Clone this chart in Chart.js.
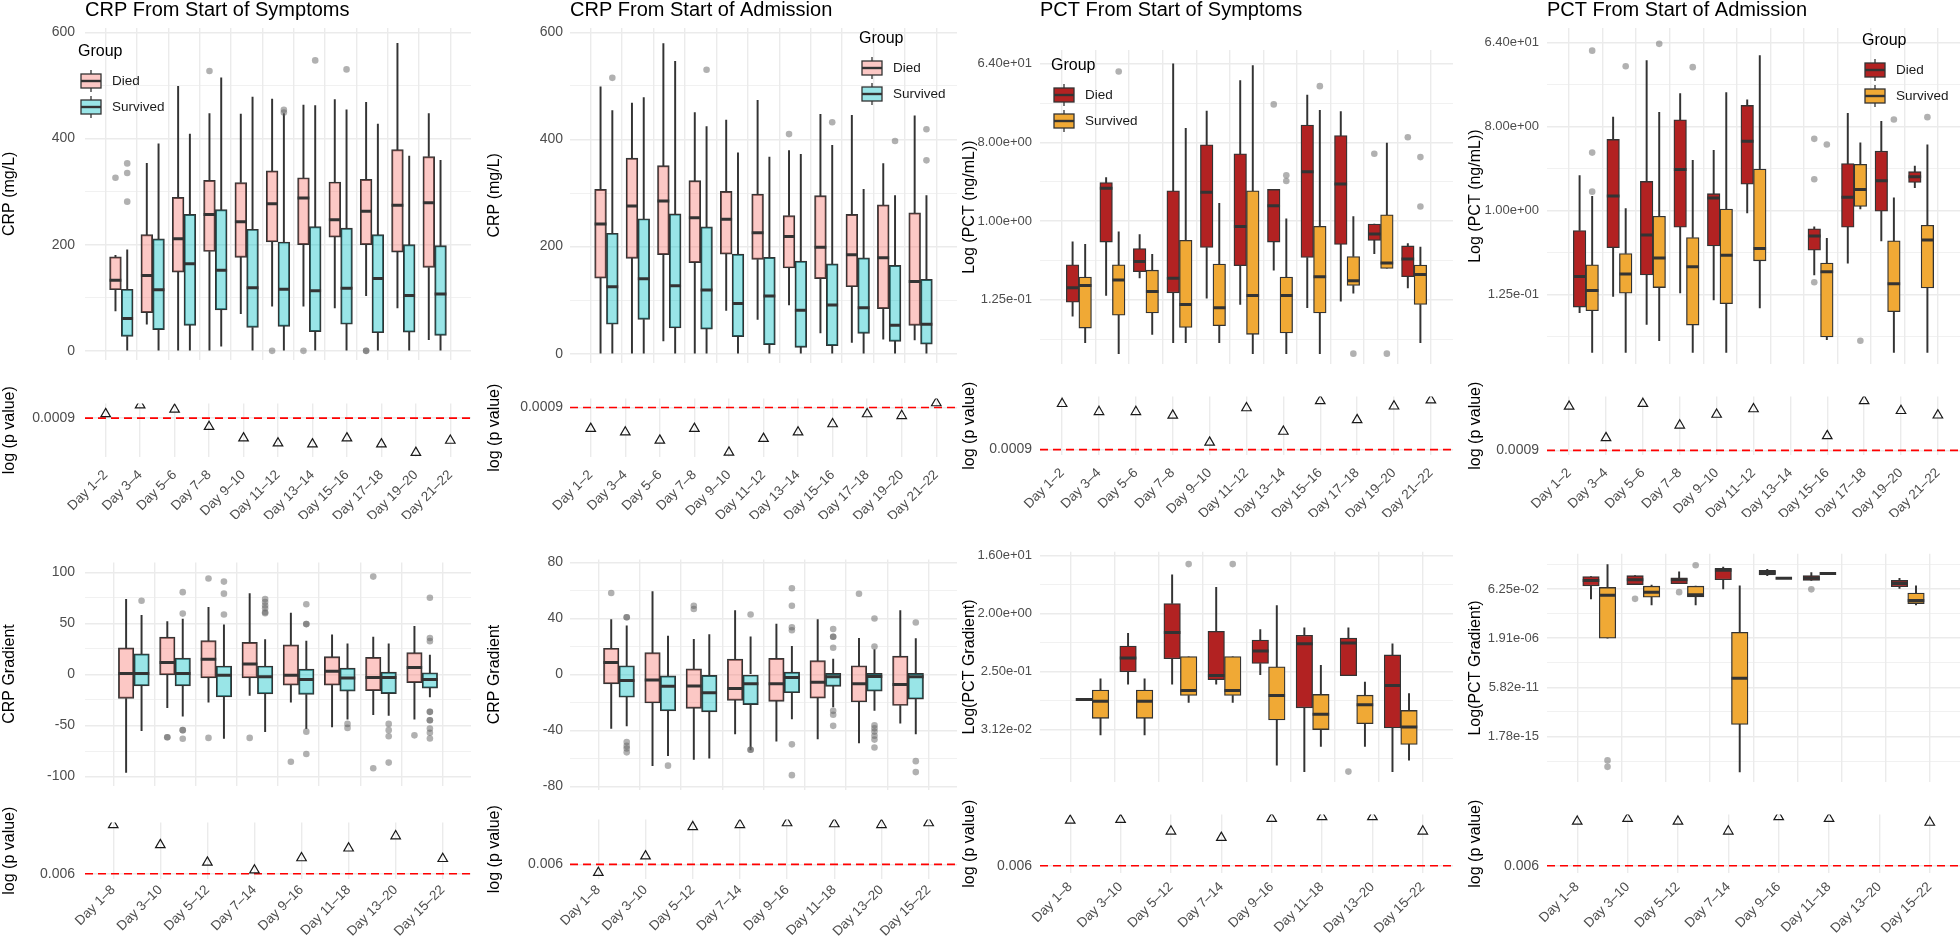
<!DOCTYPE html>
<html>
<head>
<meta charset="utf-8">
<title>CRP / PCT box plots</title>
<script src="https://cdn.jsdelivr.net/npm/chart.js@4.4.1/dist/chart.umd.min.js"></script>
<style>
  html, body { margin: 0; padding: 0; background: #fff; width: 1960px; height: 936px; overflow: hidden; }
  #page { position: relative; width: 1960px; height: 936px; overflow: hidden; }
  #page canvas { position: absolute; }
</style>
</head>
<body>
<div id="page"></div>
<script>
// ---- categories
const topDays = ['Day 1–2', 'Day 3–4', 'Day 5–6', 'Day 7–8', 'Day 9–10', 'Day 11–12',
                 'Day 13–14', 'Day 15–16', 'Day 17–18', 'Day 19–20', 'Day 21–22'];
const botDays = ['Day 1–8', 'Day 3–10', 'Day 5–12', 'Day 7–14', 'Day 9–16', 'Day 11–18',
                 'Day 13–20', 'Day 15–22'];
const groupNames = ['Died', 'Survived'];
const legendTitle = 'Group';

// ---- box stats: [lower whisker, Q1, median, Q3, upper whisker], null = no data
// outliers: [day index, value]

// CRP from start of symptoms
const crpSymDied = [[75,115,133,177,180],[50,72,142,219,353],[0,148,211,289,498],[0,187,257,321,447],
  [70,176,243,317,446],[84,205,277,339,474],[84,200,288,326,463],[81,214,247,318,473],
  [104,200,263,323,468],[81,186,274,379,579],[21,157,279,366,447]];
const crpSymSurv = [[0,27,61,116,190],[0,40,115,211,390],[0,48,164,257,408],[9,77,152,266,514],
  [0,44,119,229,478],[0,46,116,205,447],[0,36,113,234,462],[0,50,118,231,454],
  [0,34,136,219,427],[0,35,104,200,367],[0,29,107,198,359]];
const crpSymDiedOut = [[0,326],[3,527],[5,0],[6,0],[8,0],[8,0]];
const crpSymSurvOut = [[0,353],[0,335],[0,281],[5,454],[5,449],[6,547],[7,530]];

// CRP from start of admission
const crpAdmDied = [[0,141,242,307,498],[0,178,276,365,468],[24,185,285,351,579],[0,170,254,323,450],
  [81,186,251,303,436],[64,176,226,298,473],[91,160,219,258,379],[39,140,199,295,447],
  [21,125,185,260,445],[27,84,179,278,355],[26,53,135,263,444]];
const crpAdmSurv = [[0,55,125,225,454],[0,64,140,252,478],[0,48,127,261,546],[0,46,119,237,424],
  [0,32,94,186,375],[0,17,108,180,367],[0,12,81,173,372],[0,15,91,168,389],
  [0,38,86,179,307],[0,23,53,165,295],[0,18,55,139,295]];
const crpAdmDiedOut = [[6,410]];
const crpAdmSurvOut = [[0,515],[3,530],[7,432],[9,397],[10,419],[10,361]];

// PCT from start of symptoms (ng/mL)
const pctSymDied = [[0.081,0.117,0.171,0.314,0.578],[0.140,0.574,2.38,2.77,3.16],[0.222,0.262,0.344,0.483,0.702],
  [0.040,0.150,0.221,2.23,64],[0.130,0.497,2.14,7.52,18.4],[0.110,0.307,0.864,5.94,41.1],
  [0.273,0.574,1.50,2.31,2.31],[0.101,0.382,3.68,12.7,28.1],[0.120,0.539,2.66,9.58,18.1],
  [0.423,0.600,0.712,0.926,0.926],[0.171,0.230,0.366,0.518,0.550]];
const pctSymSurv = [[0.040,0.059,0.182,0.227,0.539],[0.030,0.083,0.210,0.314,0.752],[0.050,0.088,0.155,0.273,0.415],
  [0.040,0.060,0.110,0.600,11.6],[0.040,0.063,0.101,0.321,1.60],[0.030,0.050,0.140,2.23,61.2],
  [0.030,0.052,0.140,0.227,1.06],[0.030,0.088,0.230,0.871,18.7],[0.149,0.182,0.207,0.392,1.13],
  [0.285,0.285,0.330,1.18,7.89],[0.040,0.110,0.243,0.312,0.503]];
const pctSymDiedOut = [[6,21.9],[9,5.94],[10,9.19]];
const pctSymSurvOut = [[1,52.3],[6,3.36],[6,2.89],[7,35.5],[8,0.030],[9,0.030],[10,5.43],[10,1.47]];

// PCT from start of admission (ng/mL)
const pctAdmDied = [[0.080,0.092,0.196,0.612,2.38],[0.120,0.400,1.44,5.82,10.1],[0.060,0.204,0.547,2.06,40.8],
  [0.131,0.665,2.77,9.45,18.1],[0.110,0.418,1.37,1.52,4.44],[0.946,1.92,5.58,13.5,15.5],
  null,[0.204,0.376,0.533,0.637,0.669],[0.272,0.665,1.39,3.20,11.1],
  [0.473,0.986,2.10,4.35,9.13],[1.77,2.01,2.31,2.62,3.01]];
const pctAdmSurv = [[0.030,0.084,0.139,0.262,1.42],[0.030,0.130,0.209,0.346,1.05],[0.040,0.149,0.310,0.871,11.4],
  [0.030,0.059,0.250,0.514,3.48],[0.030,0.100,0.332,1.04,18.5],[0.090,0.289,0.392,2.79,46.2],
  null,[0.041,0.044,0.221,0.273,0.503],[1.04,1.11,1.69,3.14,5.35],
  [0.030,0.082,0.164,0.473,1.37],[0.030,0.148,0.483,0.697,5.10]];
const pctAdmDiedOut = [[7,5.90],[7,2.17],[7,0.170]];
const pctAdmSurvOut = [[0,52.3],[0,4.20],[0,1.60],[1,35.5],[2,61.9],[3,34.8],[7,5.13],[8,0.040],[9,9.51],[10,10.1]];

// CRP gradient, symptoms
const crpGradSymDied = [[-96,-23.5,1,26,73.6],[-32.6,-0.5,11.7,36.6,51.7],[-27.2,-3.4,15,33.2,65.7],
  [-20.5,-3.4,10.2,31.4,79.1],[-27.2,-10.5,-0.8,29,60.2],[-51.4,-10.5,3.2,17.4,38.7],
  [-39.3,-15.9,-2.9,16.8,36.6],[-43.8,-8,6.8,21.4,47.2]];
const crpGradSymSurv = [[-55,-11.1,1,20.2,57.8],[-40.9,-11.1,1,16,54.2],[-62.7,-22,-0.8,8.3,48.7],
  [-56,-19,-2.3,8.3,34.1],[-53,-19.6,-5,5.3,32.6],[-43.8,-16.4,-3.5,6.2,29.9],
  [-40,-18.7,-2.9,2.3,29.9],[-22,-13.5,-5,1.7,19]];
const crpGradSymDiedOut = [[1,-61.5],[1,-61.5],[2,94],[2,-62.1],[3,-62.1],[4,-85.4],[6,95.8],[6,-91.8],[7,-59.6]];
const crpGradSymSurvOut = [[0,72.1],[1,80.6],[1,59.6],[1,-54.5],[1,-54.5],[1,-63],[2,90.9],[2,79.1],[2,58.7],
  [3,73.9],[3,70.9],[3,67.5],[3,64.8],[3,60.9],[3,59.9],[4,68.7],[4,49.3],[4,49.3],[4,-56],[4,-77.8],
  [5,-48.4],[5,-52.3],[6,-48.4],[6,-54.5],[6,-60.5],[6,-86.3],
  [7,75.1],[7,35.7],[7,32.6],[7,-36.6],[7,-36.6],[7,-44.8],[7,-44.8],[7,-53],[7,-57],[7,-62.7]];

// CRP gradient, admission
const crpGradAdmDied = [[-38.6,-6.8,8.4,18.6,39.1],[-65.2,-20.5,-4.1,15.5,59.1],[-60.7,-24.3,-8.4,3.9,25],
  [-42.5,-18.6,-10.2,10.9,45.5],[-47.7,-19.3,-6.8,11.4,35.9],[-46.1,-17,-5.7,9.8,39.1],
  [-48.9,-19.8,-6.8,6.1,25.7],[-34.8,-22.3,-7.3,13,45.5]];
const crpGradAdmSurv = [[-36.8,-16.4,-4.5,6.1,34.5],[-58,-26.1,-8.6,-1.1,27.3],[-59.8,-26.8,-13.2,-0.7,28.4],
  [-53.9,-21.6,-6.8,0,26.8],[-31.8,-13.2,-2.3,1.6,20],[-23.2,-8.6,-1.8,0.7,10.9],
  [-25.7,-12,-1.6,0.7,17.7],[-42.5,-17.7,-1.8,0.7,25.5]];
const crpGradAdmDiedOut = [[0,58],[2,48.9],[2,46.6],[6,57.5]];
const crpGradAdmSurvOut = [[0,40.7],[0,40.7],[0,-48.4],[0,-51.1],[0,-53],[0,-55.7],[1,-65.2],[3,42.7],[3,-53.9],[3,-53.9],
  [4,61.4],[4,48.9],[4,33.6],[4,31.4],[4,-50],[4,-72],[5,32.3],[5,26.8],[5,26.8],[5,18.9],[5,-26.1],[5,-28.9],[5,-36.8],
  [6,39.8],[6,19.8],[6,-36.4],[6,-38.6],[6,-40.9],[6,-43.9],[6,-46.6],[6,-52.3],[7,37],[7,-62],[7,-69.8]];

// PCT gradient, symptoms
const pctGradSymDied = [[0.0915,0.0915,0.0915,0.0915,0.0915],[0.159,0.248,0.406,0.624,0.986],[0.159,0.395,1.01,2.87,8.06],
  [0.159,0.187,0.216,1.06,5.13],[0.224,0.334,0.521,0.774,1.13],[0.0069,0.068,0.678,0.920,1.20],
  [0.216,0.216,0.693,0.829,1.20],[0.0069,0.0331,0.151,0.454,0.678]];
const pctGradSymSurv = [[0.0257,0.0467,0.086,0.129,0.193],[0.0257,0.0467,0.086,0.129,0.193],[0.0825,0.106,0.127,0.429,0.429],
  [0.0825,0.106,0.127,0.429,0.429],[0.0087,0.044,0.106,0.297,2.66],[0.0171,0.0312,0.0541,0.110,0.312],
  [0.0171,0.0385,0.0759,0.107,0.172],[0.0104,0.0183,0.0343,0.062,0.113]];
const pctGradSymDiedOut = [[6,0.0069]];
const pctGradSymSurvOut = [[2,11.8],[3,11.8]];

// PCT gradient, admission
const pctGradAdmDied = [[0.0078,0.122,0.382,0.858,0.858],[0.160,0.160,0.439,1.05,1.05],[0.196,0.196,0.439,0.655,2.35],
  [0.0625,0.439,3.27,4.89,6.41],[1.05,1.20,2.04,3.27,4.0],[0.382,0.382,0.611,1.05,2.04],
  null,[0.0714,0.100,0.196,0.382,0.611]];
const pctGradAdmSurv = [[1.91e-6,1.91e-6,0.0163,0.087,10.9],[0.00219,0.0109,0.032,0.114,0.140],[0.00219,0.0117,0.0187,0.114,0.114],
  [1.0e-18,2.3e-14,3.9e-10,6.6e-6,0.122],[0.611,0.611,0.611,0.611,0.611],[1.67,1.67,1.67,1.67,1.67],
  null,[0.00219,0.00286,0.0056,0.0261,0.122]];
const pctGradAdmDiedOut = [[1,0.0078],[2,0.032],[5,0.0584]];
const pctGradAdmSurvOut = [[0,1.13e-17],[0,2.9e-18],[2,9.58]];

// ---- log10(p value) per window, null = not tested
const pSymCrp = [-2.87,-2.51,-2.69,-3.40,-3.87,-4.08,-4.12,-3.87,-4.12,-4.47,-3.97];
const pAdmCrp = [-3.87,-4.01,-4.33,-3.87,-4.80,-4.26,-4.01,-3.69,-3.30,-3.37,-2.87];
const pSymPct = [-1.23,-1.55,-1.55,-1.69,-2.76,-1.40,-2.33,-1.12,-1.87,-1.33,-1.09];
const pAdmPct = [-1.30,-2.55,-1.19,-2.05,-1.62,-1.40,null,-2.47,-1.08,-1.47,-1.65];
const pSymCrpGrad = [-0.22,-1.04,-1.76,-2.08,-1.58,-1.18,-0.68,-1.61];
const pAdmCrpGrad = [-2.54,-1.90,-0.76,-0.68,-0.61,-0.65,-0.68,-0.61];
const pSymPctGrad = [-0.43,-0.40,-0.86,-1.11,-0.36,-0.29,-0.29,-0.86];
const pAdmPctGrad = [-0.47,-0.36,-0.47,-0.86,-0.29,-0.36,null,-0.51];
const topCut = 0.0009, topCutLabel = '0.0009';
const botCut = 0.006, botCutLabel = '0.006';

// ---- axis ticks
const crpTicks = [0, 200, 400, 600];
const crpTickLabels = ['0', '200', '400', '600'];
const pctTicks = [0.125, 1, 8, 64];
const pctTickLabels = ['1.25e-01', '1.00e+00', '8.00e+00', '6.40e+01'];
const crpGradSymTicks = [-100, -50, 0, 50, 100];
const crpGradSymTickLabels = ['-100', '-50', '0', '50', '100'];
const crpGradAdmTicks = [-80, -40, 0, 40, 80];
const crpGradAdmTickLabels = ['-80', '-40', '0', '40', '80'];
const pctGradSymTicks = [0.03125, 0.25, 2, 16];
const pctGradSymTickLabels = ['3.12e-02', '2.50e-01', '2.00e+00', '1.60e+01'];
const pctGradAdmTicks = [1.7763568e-15, 5.8207661e-11, 1.9073486e-6, 0.0625];
const pctGradAdmTickLabels = ['1.78e-15', '5.82e-11', '1.91e-06', '6.25e-02'];

// ---- styling
const FONT = "'Liberation Sans', Arial, Helvetica, sans-serif";
Chart.defaults.font.family = FONT;
Chart.defaults.color = '#4d4d4d';
const gridGrey = '#ebebeb';
const dodge = 0.1875;
const crpFill = ['rgba(248,118,109,0.4)', 'rgba(0,191,196,0.4)'];
const pctFill = ['#b22222', '#f0a935'];

// column geometry (page px)
const cols = [
  { left: 0,    plotL: 85,   plotR: 471,  tickPad: 10, titlePad: 0 },
  { left: 478,  plotL: 570,  plotR: 957,  tickPad: 7,  titlePad: 7 },
  { left: 958,  plotL: 1040, plotR: 1453, tickPad: 8,  titlePad: 2 },
  { left: 1462, plotL: 1547, plotR: 1960, tickPad: 8,  titlePad: 4 }
];

const page = document.getElementById('page');
function addCanvas(left, top, w, h) {
  const c = document.createElement('canvas');
  c.width = w; c.height = h;
  c.style.left = left + 'px'; c.style.top = top + 'px';
  c.style.width = w + 'px'; c.style.height = h + 'px';
  page.appendChild(c);
  return c;
}

// major ticks plus ggplot style minor gridlines half way between them
function ticksWithMinor(major, log, min, max) {
  const f = log ? Math.log : (v => v);
  const g = log ? Math.exp : (v => v);
  const t = major.map(f);
  const step = t[1] - t[0];
  const out = major.map(v => ({ value: v, isMajor: true }));
  for (let k = -1; k < t.length; k++) {
    const m = g(t[0] + (k + 0.5) * step);
    if (m > min && m < max) out.push({ value: m, isMajor: false });
  }
  return out.sort((a, b) => a.value - b.value);
}

// legend drawn like the ggplot one: title + boxplot keys
Chart.register({
  id: 'groupLegend',
  afterDraw(chart, args, o) {
    if (!o || o.dx === undefined) return;
    const ctx = chart.ctx, area = chart.chartArea;
    const x0 = area.left + o.dx, y0 = area.top + o.dy;
    ctx.save();
    ctx.textBaseline = 'middle';
    ctx.textAlign = 'left';
    ctx.fillStyle = '#000';
    ctx.font = '16px ' + FONT;
    ctx.fillText(legendTitle, x0, y0);
    chart.data.datasets.filter(d => d.label).forEach((d, k) => {
      const cy = y0 + 29 + k * 26, bx = x0 + 3, bw = 20, bh = 14;
      ctx.strokeStyle = '#333';
      ctx.lineWidth = 1.3;
      ctx.beginPath();
      ctx.moveTo(bx + bw / 2, cy - bh / 2 - 4);
      ctx.lineTo(bx + bw / 2, cy + bh / 2 + 4);
      ctx.stroke();
      ctx.fillStyle = '#fff';
      ctx.fillRect(bx, cy - bh / 2, bw, bh);
      ctx.fillStyle = d.backgroundColor;
      ctx.fillRect(bx, cy - bh / 2, bw, bh);
      ctx.strokeRect(bx, cy - bh / 2, bw, bh);
      ctx.lineWidth = 2.4;
      ctx.beginPath();
      ctx.moveTo(bx, cy); ctx.lineTo(bx + bw, cy);
      ctx.stroke();
      ctx.fillStyle = '#1a1a1a';
      ctx.font = '13.5px ' + FONT;
      ctx.fillText(d.label, x0 + 34, cy);
    });
    ctx.restore();
  }
});

function boxChart(col, area, c) {
  const padT = c.title ? 0 : 10, padR = 10, padB = 10;
  const top = c.title ? 0 : area[0] - padT;
  const w = col.plotR - col.left + padR;
  const h = area[1] - top + padB;
  const cv = addCanvas(col.left, top, w, h);
  const n = c.days.length;
  const yTicks = ticksWithMinor(c.ticks, c.log, c.range[0], c.range[1]);
  const halfBox = ctx => {
    const s = ctx.chart.scales.x;
    return s.getPixelForValue(dodge) - s.getPixelForValue(0);
  };

  const datasets = [];
  [c.died, c.surv].forEach((stats, g) => {
    const dx = g === 0 ? -dodge : dodge;
    const pick = f => stats.map((s, i) => s && { x: i + dx, y: f(s) }).filter(Boolean);
    // box
    datasets.push({ type: 'bar', label: groupNames[g], data: pick(s => [s[1], s[3]]),
      backgroundColor: c.fill[g], borderColor: '#333', borderWidth: 1.3, borderSkipped: false,
      grouped: false, barPercentage: 1, categoryPercentage: 1, order: 2 });
    // whiskers
    datasets.push({ type: 'bar', data: pick(s => [s[0], s[1]]), backgroundColor: '#333',
      borderWidth: 0, barThickness: 1.3, grouped: false, order: 3 });
    datasets.push({ type: 'bar', data: pick(s => [s[3], s[4]]), backgroundColor: '#333',
      borderWidth: 0, barThickness: 1.3, grouped: false, order: 3 });
    // median
    datasets.push({ type: 'scatter', data: pick(s => s[2]), pointStyle: 'line',
      pointRadius: halfBox, pointBorderColor: '#333', pointBorderWidth: 3, order: 1 });
    // outliers
    datasets.push({ type: 'scatter', data: c.outliers[g].map(o => ({ x: o[0] + dx, y: o[1] })),
      pointRadius: 3.3, pointBackgroundColor: 'rgba(100,100,100,0.5)', pointBorderWidth: 0, order: 0 });
  });

  new Chart(cv, {
    type: 'scatter',
    data: { datasets },
    options: {
      responsive: false, animation: false, events: [], devicePixelRatio: 1,
      layout: { padding: { top: padT, right: padR, bottom: padB, left: 0 } },
      plugins: {
        legend: { display: false },
        tooltip: { enabled: false },
        title: {
          display: !!c.title, text: c.title, align: 'start', fullSize: false, color: '#000',
          font: { size: 20, weight: 'normal', lineHeight: 1 },
          padding: { top: 0, bottom: area[0] - 20 }
        },
        groupLegend: c.legend || {}
      },
      scales: {
        x: {
          type: 'linear', min: -0.6, max: n - 0.4,
          afterBuildTicks: s => { s.ticks = c.days.map((d, i) => ({ value: i })); },
          ticks: { display: false },
          grid: { color: gridGrey, lineWidth: 1.4, drawTicks: false },
          border: { display: false },
          afterFit: s => { s.height = 0; }
        },
        y: {
          type: c.log ? 'logarithmic' : 'linear', min: c.range[0], max: c.range[1],
          afterBuildTicks: s => { s.ticks = yTicks.map(t => ({ value: t.value, isMajor: t.isMajor })); },
          ticks: {
            autoSkip: false, padding: col.tickPad, color: '#4d4d4d',
            font: { size: c.log ? 13 : 14 },
            callback: (v, i, ts) => ts[i].isMajor ? c.tickLabels[c.ticks.indexOf(ts[i].value)] : ''
          },
          grid: {
            color: gridGrey, drawTicks: false,
            lineWidth: ctx => (ctx.tick && ctx.tick.isMajor) ? 1.4 : 0.7
          },
          border: { display: false },
          title: { display: true, text: c.yTitle, color: '#000', font: { size: 16 },
                   padding: { top: col.titlePad, bottom: 0 } },
          afterFit: s => { s.width = col.plotL - col.left; }
        }
      }
    }
  });
}

function pChart(col, area, days, vals, cut, cutLabel, range, labelPad) {
  const padT = 10, padR = 10, xH = 62;
  const top = area[0] - padT;
  const w = col.plotR - col.left + padR;
  const h = padT + (area[1] - area[0]) + xH;
  const cv = addCanvas(col.left, top, w, h);
  const n = days.length;
  const cutY = Math.log10(cut);

  new Chart(cv, {
    type: 'scatter',
    data: {
      datasets: [
        { type: 'scatter', data: vals.map((v, i) => v === null ? null : { x: i, y: v }).filter(Boolean),
          pointStyle: 'triangle', pointRadius: 5.5, pointBorderColor: '#1a1a1a', pointBorderWidth: 1.2,
          pointBackgroundColor: 'rgba(0,0,0,0)', order: 0 },
        { type: 'line', data: [{ x: -0.6, y: cutY }, { x: n - 0.4, y: cutY }],
          borderColor: '#ff0000', borderWidth: 1.6, borderDash: [8, 5], pointRadius: 0, order: 1 }
      ]
    },
    options: {
      responsive: false, animation: false, events: [], devicePixelRatio: 1,
      layout: { padding: { top: padT, right: padR, bottom: 0, left: 0 } },
      plugins: { legend: { display: false }, tooltip: { enabled: false } },
      scales: {
        x: {
          type: 'linear', min: -0.6, max: n - 0.4,
          afterBuildTicks: s => { s.ticks = days.map((d, i) => ({ value: i })); },
          ticks: { autoSkip: false, minRotation: 45, maxRotation: 45, padding: labelPad,
                   font: { size: 13.5 }, color: '#4d4d4d', callback: (v, i) => days[i] },
          grid: { color: gridGrey, lineWidth: 1.4, drawTicks: false },
          border: { display: false },
          afterFit: s => { s.height = xH; }
        },
        y: {
          type: 'linear', min: range[0], max: range[1],
          afterBuildTicks: s => { s.ticks = [{ value: cutY }]; },
          ticks: { padding: col.tickPad, font: { size: 14 }, color: '#4d4d4d', callback: () => cutLabel },
          grid: { color: gridGrey, lineWidth: 1.4, drawTicks: false },
          border: { display: false },
          title: { display: true, text: 'log (p value)', color: '#000', font: { size: 16 },
                   padding: { top: col.titlePad, bottom: 0 } },
          afterFit: s => { s.width = col.plotL - col.left; }
        }
      }
    }
  });
}

// ---- top row
boxChart(cols[0], [28, 368], { title: 'CRP From Start of Symptoms', yTitle: 'CRP (mg/L)', days: topDays,
  died: crpSymDied, surv: crpSymSurv, outliers: [crpSymDiedOut, crpSymSurvOut], fill: crpFill,
  log: false, range: [-16.5, 608], ticks: crpTicks, tickLabels: crpTickLabels, legend: { dx: -7, dy: 24 } });
boxChart(cols[1], [28, 368], { title: 'CRP From Start of Admission', yTitle: 'CRP (mg/L)', days: topDays,
  died: crpAdmDied, surv: crpAdmSurv, outliers: [crpAdmDiedOut, crpAdmSurvOut], fill: crpFill,
  log: false, range: [-16.5, 608], ticks: crpTicks, tickLabels: crpTickLabels, legend: { dx: 289, dy: 11 } });
boxChart(cols[2], [50, 370], { title: 'PCT From Start of Symptoms', yTitle: 'Log (PCT (ng/mL))', days: topDays,
  died: pctSymDied, surv: pctSymSurv, outliers: [pctSymDiedOut, pctSymSurvOut], fill: pctFill,
  log: true, range: [0.0227, 92.3], ticks: pctTicks, tickLabels: pctTickLabels, legend: { dx: 11, dy: 16 } });
boxChart(cols[3], [28, 370], { title: 'PCT From Start of Admission', yTitle: 'Log (PCT (ng/mL))', days: topDays,
  died: pctAdmDied, surv: pctAdmSurv, outliers: [pctAdmDiedOut, pctAdmSurvOut], fill: pctFill,
  log: true, range: [0.0224, 91.6], ticks: pctTicks, tickLabels: pctTickLabels, legend: { dx: 315, dy: 13 } });

pChart(cols[0], [395, 457], topDays, pSymCrp, topCut, topCutLabel, [-4.65, -2.44], 10);
pChart(cols[1], [393, 457], topDays, pAdmCrp, topCut, topCutLabel, [-4.98, -2.69], 10);
pChart(cols[2], [390, 455], topDays, pSymPct, topCut, topCutLabel, [-3.26, -0.94], 10);
pChart(cols[3], [390, 455], topDays, pAdmPct, topCut, topCutLabel, [-3.23, -0.90], 10);

// ---- bottom row
boxChart(cols[0], [554, 794], { yTitle: 'CRP Gradient', days: botDays,
  died: crpGradSymDied, surv: crpGradSymSurv, outliers: [crpGradSymDiedOut, crpGradSymSurvOut], fill: crpFill,
  log: false, range: [-108.8, 109.7], ticks: crpGradSymTicks, tickLabels: crpGradSymTickLabels });
boxChart(cols[1], [554, 795], { yTitle: 'CRP Gradient', days: botDays,
  died: crpGradAdmDied, surv: crpGradAdmSurv, outliers: [crpGradAdmDiedOut, crpGradAdmSurvOut], fill: crpFill,
  log: false, range: [-82.3, 82], ticks: crpGradAdmTicks, tickLabels: crpGradAdmTickLabels });
boxChart(cols[2], [546, 788], { yTitle: 'Log(PCT Gradient)', days: botDays,
  died: pctGradSymDied, surv: pctGradSymSurv, outliers: [pctGradSymDiedOut, pctGradSymSurvOut], fill: pctFill,
  log: true, range: [0.00472, 18.34], ticks: pctGradSymTicks, tickLabels: pctGradSymTickLabels });
boxChart(cols[3], [548, 788], { yTitle: 'Log(PCT Gradient)', days: botDays,
  died: pctGradAdmDied, surv: pctGradAdmSurv, outliers: [pctGradAdmDiedOut, pctGradAdmSurvOut], fill: pctFill,
  log: true, range: [1.13e-19, 106.9], ticks: pctGradAdmTicks, tickLabels: pctGradAdmTickLabels });

pChart(cols[0], [814, 879], botDays, pSymCrpGrad, botCut, botCutLabel, [-2.44, -0.12], 3);
pChart(cols[1], [814, 879], botDays, pAdmCrpGrad, botCut, botCutLabel, [-2.79, -0.47], 3);
pChart(cols[2], [808, 873], botDays, pSymPctGrad, botCut, botCutLabel, [-2.51, -0.19], 6);
pChart(cols[3], [808, 873], botDays, pAdmPctGrad, botCut, botCutLabel, [-2.51, -0.19], 6);
</script>
</body>
</html>
